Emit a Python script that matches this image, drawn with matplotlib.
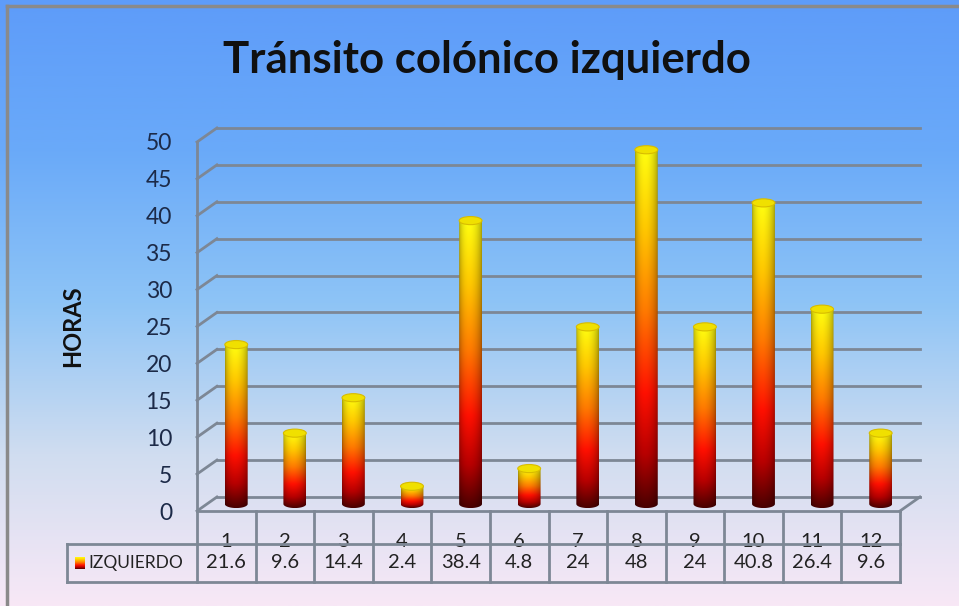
import numpy as np
import matplotlib.pyplot as plt
from matplotlib.colors import LinearSegmentedColormap
from matplotlib.patches import Ellipse, PathPatch
from matplotlib.path import Path

plt.rcParams['font.family'] = ['Lato', 'DejaVu Sans']

casos = ['1', '2', '3', '4', '5', '6', '7', '8', '9', '10', '11', '12']
horas = [21.6, 9.6, 14.4, 2.4, 38.4, 4.8, 24, 48, 24, 40.8, 26.4, 9.6]
serie = 'IZQUIERDO'
yticks = list(range(0, 51, 5))

fig = plt.figure(figsize=(9.59, 6.06), dpi=100)

# fondo degradado azul -> rosado
bg = fig.add_axes([0, 0, 1, 1], zorder=-10)
fondo = LinearSegmentedColormap.from_list(
    'fondo', ['#5E9CF9', '#6AAAF9', '#8EC4F6', '#D0DDF0', '#F8E8F6'])
bg.imshow(np.linspace(0, 1, 256)[:, None], aspect='auto', cmap=fondo,
          extent=(0, 1, 0, 1))
bg.plot([7 / 959, 1], [1 - 6 / 606, 1 - 6 / 606], color='#8A8A8A', lw=2.5)
bg.plot([7 / 959, 7 / 959], [0, 1 - 6 / 606], color='#8A8A8A', lw=2.5)
bg.set_xlim(0, 1)
bg.set_ylim(0, 1)
bg.axis('off')

fig.text(0.508, 1 - 60 / 606, 'Tránsito colónico izquierdo', ha='center',
         va='center', fontsize=31.5, fontweight='bold', color='#101010')
fig.text(73 / 959, 1 - 326 / 606, 'HORAS', rotation=90, ha='center',
         va='center', fontsize=17, fontweight='bold', color='#101010')

ax = fig.add_axes([197 / 959, 1 - 511 / 606, 703 / 959, 369 / 606])
ax.patch.set_alpha(0)
for s in ax.spines.values():
    s.set_visible(False)

n = len(horas)
x0, x1 = -0.5, n - 0.5
dx, dy = 0.34, 1.9
gris = '#7D8795'

# pared del fondo y piso
for t in yticks:
    ax.plot([x0 + dx, x1 + dx], [t + dy, t + dy], color=gris, lw=2, zorder=1, clip_on=False)
    ax.plot([x0, x0 + dx], [t, t + dy], color=gris, lw=2, zorder=1, clip_on=False)
ax.plot([x0, x0], [0, max(yticks)], color=gris, lw=2, zorder=1, clip_on=False)
ax.plot([x1, x1 + dx], [0, dy], color=gris, lw=2, zorder=1, clip_on=False)

# cilindros
cil = LinearSegmentedColormap.from_list(
    'cil', [(0.0, '#4A0000'), (0.15, '#B80000'), (0.32, '#FF1000'),
            (0.55, '#FF7A00'), (0.78, '#FFC800'), (1.0, '#FFFF10')])
u = np.linspace(0, 1, 64)
sombra = 0.62 + 0.38 * np.sin(np.pi * u ** 0.85) ** 0.6
v = np.linspace(1, 0, 256)[:, None]
rgb = np.clip(cil(v)[..., :3] * sombra[None, :, None], 0, 1)

w, eh = 0.39, 1.1
base, off = dy / 2, dx / 2
theta = np.linspace(np.pi, 2 * np.pi, 40)
for i, h in enumerate(horas):
    xc = i + off
    xl, xr = xc - w / 2, xc + w / 2
    top = base + h
    verts = np.column_stack([xc + w / 2 * np.cos(theta), base + eh / 2 * np.sin(theta)])
    verts = np.vstack([verts, [[xr, top], [xl, top], verts[0]]])
    clip = PathPatch(Path(verts), facecolor='none', edgecolor='none')
    ax.add_patch(clip)
    im = ax.imshow(rgb, extent=(xl, xr, base - eh / 2, top), aspect='auto',
                   interpolation='bilinear', zorder=3)
    im.set_clip_path(clip)
    ax.add_patch(Ellipse((xc, top), w, eh, facecolor='#F0E000',
                         edgecolor='#D8BC00', lw=0.8, zorder=4))

# tabla de datos
yt_mid, yt_bot = -4.47, -9.62
xl_leg = -2.72
ax.plot([x0, x1], [0, 0], color=gris, lw=2, zorder=5, clip_on=False)
ax.plot([xl_leg, x1], [yt_mid, yt_mid], color=gris, lw=2, zorder=5, clip_on=False)
ax.plot([xl_leg, x1], [yt_bot, yt_bot], color=gris, lw=2, zorder=5, clip_on=False)
ax.plot([xl_leg, xl_leg], [yt_mid, yt_bot], color=gris, lw=2, zorder=5, clip_on=False)
for k in range(n + 1):
    ax.plot([x0 + k, x0 + k], [0, yt_bot], color=gris, lw=2, zorder=5, clip_on=False)

for i, (c, h) in enumerate(zip(casos, horas)):
    ax.text(i, -4.15, c, ha='center', va='center', fontsize=14.5, color='#222222', zorder=2)
    ax.text(i, -7.0, f'{h:g}', ha='center', va='center', fontsize=14.5,
            color='#222222', zorder=2)

ax.imshow(cil(v)[..., :3], extent=(-2.59, -2.43, -7.9, -6.3), aspect='auto',
          zorder=6, clip_on=False)
ax.text(-2.36, -7.0, serie, ha='left', va='center', fontsize=12.5, color='#222222')

ax.set_xlim(x0, x1)
ax.set_ylim(0, max(yticks))
ax.set_xticks([])
ax.set_yticks(yticks)
ax.tick_params(axis='y', length=0, pad=18, labelsize=16.5, labelcolor='#1C2A48')

fig.savefig('out.png', dpi=100)
